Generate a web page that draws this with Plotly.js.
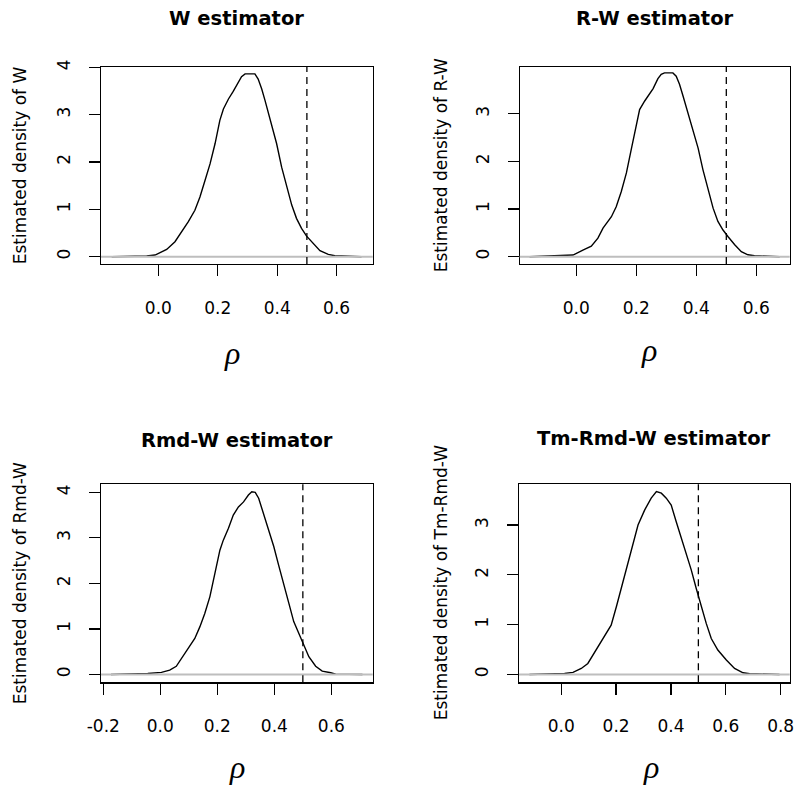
<!DOCTYPE html>
<html><head><meta charset="utf-8">
<script src="https://cdn.plot.ly/plotly-3.0.1.min.js"></script>
<style>html,body{margin:0;padding:0;background:#fff}#chart{width:798px;height:785px}</style>
</head><body><div id="chart"></div>
<script>
// ---------------- data ----------------
const panelTitles = ["W estimator", "R-W estimator", "Rmd-W estimator", "Tm-Rmd-W estimator"];
const yLabels = ["Estimated density of W", "Estimated density of R-W", "Estimated density of Rmd-W", "Estimated density of Tm-Rmd-W"];
const xLabel = "ρ";
const trueRho = 0.5;

const rhoW  = [-0.157,-0.039,-0.011,0.028,0.056,0.079,0.101,0.123,0.140,0.157,0.174,0.191,0.207,0.219,0.236,0.252,0.269,0.280,0.292,0.325,0.336,0.348,0.359,0.370,0.387,0.398,0.415,0.432,0.449,0.465,0.482,0.499,0.521,0.544,0.572,0.594,0.684];
const densW = [0.000,0.014,0.035,0.154,0.316,0.530,0.740,0.980,1.260,1.610,1.960,2.390,2.880,3.120,3.330,3.490,3.680,3.800,3.860,3.860,3.750,3.540,3.300,3.050,2.670,2.390,1.890,1.470,1.090,0.810,0.600,0.435,0.280,0.126,0.050,0.020,0.000];

const rhoRW  = [-0.156,-0.039,-0.011,0.022,0.050,0.072,0.089,0.117,0.133,0.150,0.167,0.183,0.200,0.211,0.228,0.244,0.256,0.272,0.283,0.294,0.322,0.333,0.344,0.356,0.372,0.389,0.406,0.422,0.439,0.456,0.472,0.489,0.506,0.528,0.550,0.572,0.594,0.678];
const densRW = [0.000,0.020,0.035,0.140,0.220,0.390,0.600,0.840,1.050,1.370,1.760,2.250,2.740,3.090,3.270,3.410,3.530,3.740,3.830,3.860,3.860,3.790,3.620,3.370,3.020,2.670,2.280,1.830,1.410,1.020,0.740,0.560,0.420,0.250,0.105,0.040,0.020,0.000];

const rhoRmdW  = [-0.173,-0.044,0.004,0.033,0.056,0.074,0.098,0.121,0.139,0.156,0.174,0.186,0.198,0.209,0.221,0.239,0.256,0.274,0.292,0.309,0.321,0.333,0.345,0.362,0.380,0.398,0.415,0.433,0.451,0.468,0.486,0.504,0.521,0.545,0.568,0.598,0.615,0.709];
const densRmdW = [0.000,0.020,0.045,0.095,0.180,0.350,0.570,0.790,1.050,1.340,1.710,2.040,2.370,2.730,2.950,3.210,3.500,3.680,3.790,3.940,4.010,4.000,3.870,3.540,3.170,2.810,2.400,2.000,1.560,1.160,0.900,0.610,0.390,0.180,0.073,0.037,0.007,0.000];

const rhoTmRmdW  = [-0.116,0.012,0.043,0.073,0.097,0.116,0.134,0.158,0.182,0.201,0.219,0.243,0.261,0.280,0.304,0.328,0.347,0.365,0.383,0.401,0.419,0.438,0.456,0.474,0.492,0.511,0.529,0.547,0.571,0.602,0.632,0.663,0.687,0.796];
const densTmRmdW = [0.000,0.020,0.040,0.120,0.220,0.390,0.570,0.760,0.990,1.360,1.730,2.200,2.600,3.000,3.300,3.540,3.670,3.640,3.540,3.400,3.070,2.730,2.430,2.100,1.730,1.360,1.020,0.720,0.490,0.290,0.120,0.033,0.013,0.000];

const xTickVals1 = [0, 0.2, 0.4, 0.6];        const xTickText1 = ["0.0", "0.2", "0.4", "0.6"];
const xTickVals3 = [-0.2, 0, 0.2, 0.4, 0.6];  const xTickText3 = ["-0.2", "0.0", "0.2", "0.4", "0.6"];
const xTickVals4 = [0, 0.2, 0.4, 0.6, 0.8];   const xTickText4 = ["0.0", "0.2", "0.4", "0.6", "0.8"];
const yTickVals4 = [0, 1, 2, 3, 4];
const yTickVals3 = [0, 1, 2, 3];

// ---------------- layout ----------------
const W = 798, H = 785;
const fx = p => p / W, fy = p => 1 - p / H;

const panels = [
  {x: rhoW, y: densW, box: [101, 372.7, 66.7, 264], xr: [-0.193, 0.7215], yr: [-0.154, 4.012],
   xt: xTickVals1, xtt: xTickText1, yt: yTickVals4, titleY: 19, ylabX: 20, rhoX: 232, rhoY: 353},
  {x: rhoRW, y: densRW, box: [519.7, 789.7, 66.7, 264], xr: [-0.1887, 0.7113], yr: [-0.153, 3.99],
   xt: xTickVals1, xtt: xTickText1, yt: yTickVals3, titleY: 19, ylabX: 441, rhoX: 649, rhoY: 350},
  {x: rhoRmdW, y: densRmdW, box: [101, 372.7, 484.3, 682.3], xr: [-0.208, 0.745], yr: [-0.172, 4.176],
   xt: xTickVals3, xtt: xTickText3, yt: yTickVals4, titleY: 440, ylabX: 20, rhoX: 237, rhoY: 767},
  {x: rhoTmRmdW, y: densTmRmdW, box: [519, 789.7, 484.3, 682.3], xr: [-0.154, 0.833], yr: [-0.158, 3.818],
   xt: xTickVals4, xtt: xTickText4, yt: yTickVals3, titleY: 438, ylabX: 441, rhoX: 651, rhoY: 767}
];

const FONT = "DejaVu Sans";
const traces = [], shapes = [], annotations = [];
const layout = {
  width: W, height: H, margin: {l: 0, r: 0, t: 0, b: 0},
  paper_bgcolor: "#fff", plot_bgcolor: "#fff", showlegend: false,
  font: {family: FONT, size: 17, color: "#000"}
};

panels.forEach((p, i) => {
  const n = i + 1, sfx = n === 1 ? "" : String(n);
  const xa = "x" + sfx, ya = "y" + sfx;
  traces.push({x: p.x, y: p.y, xaxis: xa, yaxis: ya, type: "scatter", mode: "lines",
    line: {color: "#000", width: 1.4}, hoverinfo: "skip"});
  const common = {showline: true, mirror: true, linecolor: "#000", linewidth: 1.2,
    ticks: "outside", ticklen: 11, tickwidth: 1.2, tickcolor: "#000",
    showgrid: false, zeroline: false, fixedrange: true, automargin: false,
    tickfont: {family: FONT, size: 17, color: "#000"}};
  layout["xaxis" + sfx] = Object.assign({}, common, {
    domain: [fx(p.box[0]), fx(p.box[1])], range: p.xr, anchor: ya,
    tickmode: "array", tickvals: p.xt, ticktext: p.xtt, ticklabelstandoff: 17});
  layout["yaxis" + sfx] = Object.assign({}, common, {
    domain: [fy(p.box[3]), fy(p.box[2])], range: p.yr, anchor: xa,
    tickmode: "array", tickvals: p.yt, ticktext: p.yt.map(String), tickangle: -90,
    ticklabelposition: "outside", ticklabelstandoff: 12});
  // zero line (gray)
  shapes.push({type: "line", xref: xa + " domain", yref: ya, x0: 0, x1: 1, y0: 0, y1: 0,
    line: {color: "#BEBEBE", width: 2}, layer: "above"});
  // true value (dashed)
  shapes.push({type: "line", xref: xa, yref: ya + " domain", x0: trueRho, x1: trueRho, y0: 0, y1: 1,
    line: {color: "#000", width: 1.3, dash: "7px,5px"}, layer: "above"});
  annotations.push({text: "<b>" + panelTitles[i] + "</b>", xref: xa + " domain", x: 0.5, yref: "paper", y: fy(p.titleY),
    xanchor: "center", yanchor: "middle", showarrow: false, font: {family: FONT, size: 19.5, color: "#000"}});
  annotations.push({text: yLabels[i], xref: "paper", x: fx(p.ylabX), yref: ya + " domain", y: 0.5,
    xanchor: "center", yanchor: "middle", textangle: -90, showarrow: false, font: {family: FONT, size: 17, color: "#000"}});
  annotations.push({text: xLabel, xref: "paper", x: fx(p.rhoX), yref: "paper", y: fy(p.rhoY),
    xanchor: "center", yanchor: "middle", showarrow: false,
    font: {family: "Liberation Serif", size: 32, color: "#000", style: "italic"}});
});
layout.shapes = shapes;
layout.annotations = annotations;

Plotly.newPlot("chart", traces, layout, {staticPlot: true, displayModeBar: false});
</script></body></html>
